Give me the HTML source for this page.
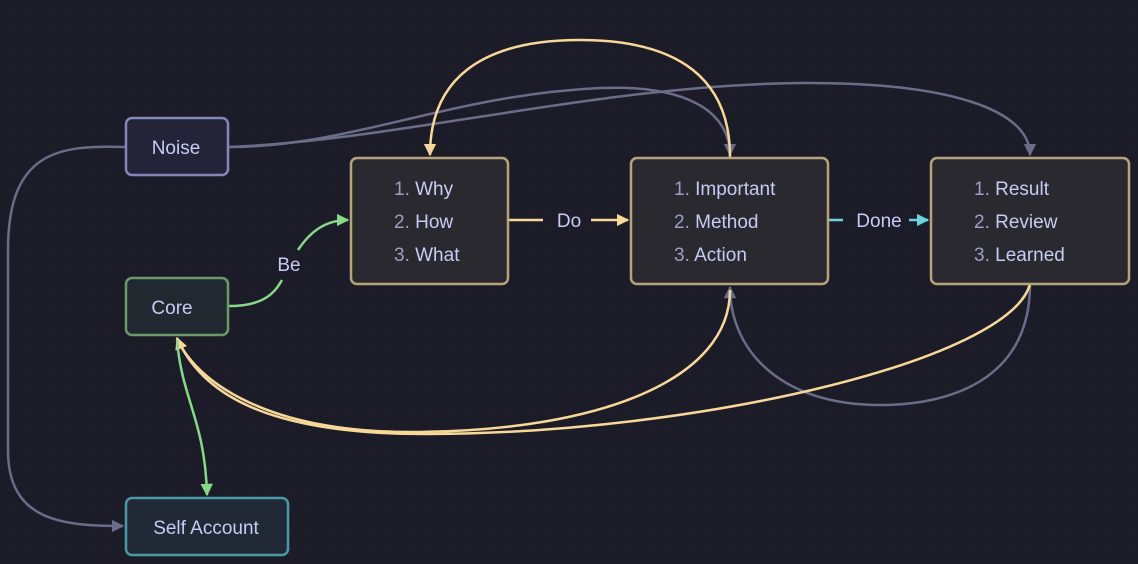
<!DOCTYPE html>
<html><head><meta charset="utf-8"><style>
html,body{margin:0;padding:0;background:#1c1c28;}
svg{display:block;font-family:"Liberation Sans",sans-serif;}
</style></head><body>
<svg width="1138" height="564" viewBox="0 0 1138 564" xmlns="http://www.w3.org/2000/svg">
<defs>
<pattern id="dots" width="20" height="20" patternUnits="userSpaceOnUse"><circle cx="10" cy="10" r="0.8" fill="#2c2c3c"/></pattern>
<marker id="ag" viewBox="0 0 10 10" refX="9" refY="5" markerWidth="5" markerHeight="5" orient="auto-start-reverse"><path d="M0,0L10,5L0,10z" fill="#6a6c88"/></marker>
<marker id="ay" viewBox="0 0 10 10" refX="9" refY="5" markerWidth="5" markerHeight="5" orient="auto-start-reverse"><path d="M0,0L10,5L0,10z" fill="#f8d899"/></marker>
<marker id="agr" viewBox="0 0 10 10" refX="9" refY="5" markerWidth="5" markerHeight="5" orient="auto-start-reverse"><path d="M0,0L10,5L0,10z" fill="#86d987"/></marker>
<marker id="ac" viewBox="0 0 10 10" refX="9" refY="5" markerWidth="5" markerHeight="5" orient="auto-start-reverse"><path d="M0,0L10,5L0,10z" fill="#6cd4e0"/></marker>
</defs>
<rect width="1138" height="564" fill="#1c1c28"/>
<rect width="1138" height="564" fill="url(#dots)"/>
<g fill="none" stroke-width="2.5">
<path d="M125,147 C60,145 8,150 8,250 L8,450 C8,520 60,526 123,526" stroke="#6a6c88" marker-end="url(#ag)"/>
<path d="M229,147 C350,147 450,95 600,88 C700,84 730,120 730,155" stroke="#6a6c88" marker-end="url(#ag)"/>
<path d="M229,147 C400,140 600,85 800,83 C950,82 1030,110 1030,155" stroke="#6a6c88" marker-end="url(#ag)"/>
<path d="M730,157 C730,80 680,40 580,40 C480,40 430,80 430,155" stroke="#f8d899" marker-end="url(#ay)"/>
<path d="M1030,284 C1030,380 950,405 880,405 C780,405 730,350 730,287" stroke="#6a6c88" marker-end="url(#ag)"/>
<path d="M730,290 C730,380 600,430 420,432 C250,434 190,370 177,338" stroke="#f8d899" marker-end="url(#ay)"/>
<path d="M1030,284 C1010,360 700,433 430,434 C260,435 200,390 177,338" stroke="#f8d899"/>
<path d="M177,340 C182,400 205,420 207,495" stroke="#86d987" marker-end="url(#agr)"/>
<path d="M229,306 C265,306 275,292 282,280" stroke="#86d987"/>
<path d="M298,250 C310,232 325,220 348,220" stroke="#86d987" marker-end="url(#agr)"/>
<path d="M509,220 L543,220" stroke="#f8d899"/>
<path d="M591,220 L628,220" stroke="#f8d899" marker-end="url(#ay)"/>
<path d="M829,220 L843,220" stroke="#6cd4e0"/>
<path d="M909,220 L928,220" stroke="#6cd4e0" marker-end="url(#ac)"/>
</g>
<g stroke-width="2.5">
<rect x="126" y="118" width="102" height="57" rx="6" fill="#232438" stroke="#8486bc"/>
<rect x="126" y="278" width="102" height="57" rx="6" fill="#222830" stroke="#6a9a6a"/>
<rect x="126" y="498" width="162" height="57" rx="6" fill="#212836" stroke="#4a9aa6"/>
<rect x="351" y="158" width="157" height="126" rx="6" fill="#29292f" stroke="#b8a47a"/>
<rect x="631" y="158" width="197" height="126" rx="6" fill="#29292f" stroke="#b8a47a"/>
<rect x="931" y="158" width="198" height="126" rx="6" fill="#29292f" stroke="#b8a47a"/>
</g>
<g font-size="19" fill="#c8ccf4">
<text x="176" y="154" text-anchor="middle">Noise</text>
<text x="172" y="314" text-anchor="middle">Core</text>
<text x="206" y="534" text-anchor="middle">Self Account</text>
<text x="289" y="271" text-anchor="middle">Be</text>
<text x="569" y="227" text-anchor="middle">Do</text>
<text x="879" y="227" text-anchor="middle">Done</text>
<text x="394" y="195"><tspan fill="#9ea0c0">1. </tspan>Why</text>
<text x="394" y="228"><tspan fill="#9ea0c0">2. </tspan>How</text>
<text x="394" y="261"><tspan fill="#9ea0c0">3. </tspan>What</text>
<text x="674" y="195"><tspan fill="#9ea0c0">1. </tspan>Important</text>
<text x="674" y="228"><tspan fill="#9ea0c0">2. </tspan>Method</text>
<text x="674" y="261"><tspan fill="#9ea0c0">3. </tspan>Action</text>
<text x="974" y="195"><tspan fill="#9ea0c0">1. </tspan>Result</text>
<text x="974" y="228"><tspan fill="#9ea0c0">2. </tspan>Review</text>
<text x="974" y="261"><tspan fill="#9ea0c0">3. </tspan>Learned</text>
</g>
</svg>
</body></html>
